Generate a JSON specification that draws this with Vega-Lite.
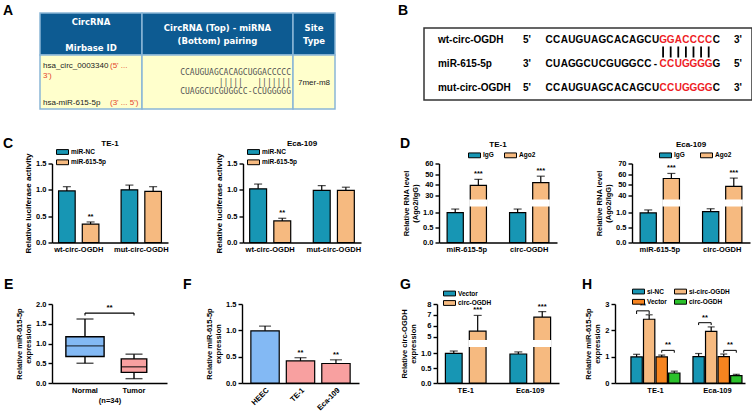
{
  "$schema": "https://vega.github.io/schema/vega-lite/v6.json",
  "background": "white",
  "padding": {"left": 3, "top": 3, "right": 0, "bottom": 0},
  "resolve": {"scale": {"color": "independent", "fill": "independent", "xOffset": "independent", "x": "independent", "y": "independent"}, "legend": {"color": "independent", "fill": "independent"}},
  "config": {
    "font": "Liberation Sans",
    "view": {"stroke": null},
    "axis": {"domainColor": "black", "domainWidth": 1.4, "tickColor": "black", "tickWidth": 1.4, "tickSize": 4, "labelColor": "black", "labelFontWeight": "bold", "labelFontSize": 7.5, "titleColor": "black", "titleFontWeight": "bold", "titleFontSize": 7.5, "grid": false, "labelPadding": 2, "titlePadding": 3},
    "axisY": {"tickCount": 20},
    "axisX": {"ticks": false, "labelAngle": 0, "labelPadding": 3},
    "legend": {"labelFontWeight": "bold", "labelFontSize": 6.5, "labelColor": "black", "symbolType": "M-1.5,-0.6H1.5V0.6H-1.5Z", "symbolSize": 64, "symbolStrokeColor": "black", "symbolStrokeWidth": 1, "rowPadding": 1.3, "labelOffset": 4, "padding": 0},
    "title": {"color": "black", "fontWeight": "bold", "font": "Liberation Sans"}
  },
  "datasets": {
    "tcells": [
      {"c0": 0, "c1": 1, "r0": 0, "r1": 1, "part": "header"},
      {"c0": 1, "c1": 2, "r0": 0, "r1": 1, "part": "header"},
      {"c0": 2, "c1": 3, "r0": 0, "r1": 1, "part": "header"},
      {"c0": 0, "c1": 1, "r0": 1, "r1": 2, "part": "body"},
      {"c0": 1, "c1": 2, "r0": 1, "r1": 2, "part": "body"},
      {"c0": 2, "c1": 3, "r0": 1, "r1": 2, "part": "body"}
    ],
    "ttext": [
      {"col": 0, "ln": 1, "t": "CircRNA", "r": "h"},
      {"col": 0, "ln": 4, "t": "Mirbase ID", "r": "h"},
      {"col": 1, "ln": 2, "t": "CircRNA (Top) - miRNA", "r": "h"},
      {"col": 1, "ln": 3, "t": "(Bottom) pairing", "r": "h"},
      {"col": 2, "ln": 2, "t": "Site", "r": "h"},
      {"col": 2, "ln": 3, "t": "Type", "r": "h"},
      {"col": 0, "ln": 5, "t": "hsa_circ_0003340", "r": "id"},
      {"col": 0, "ln": 5, "t": "(5' ...", "r": "note"},
      {"col": 0, "ln": 7, "t": "3')", "r": "red"},
      {"col": 0, "ln": 10, "t": "hsa-miR-615-5p", "r": "id"},
      {"col": 0, "ln": 10, "t": "(3' ... 5')", "r": "note"},
      {"col": 1, "ln": 6, "t": "CCAUGUAGCACAGCUGGACCCCC", "r": "seq"},
      {"col": 1, "ln": 8, "t": "\u00a0\u00a0\u00a0\u00a0\u00a0\u00a0\u00a0|||||\u00a0\u00a0\u00a0|||||||\u00a0", "r": "seq"},
      {"col": 1, "ln": 9, "t": "CUAGGCUCGUGGCC-CCUGGGGG", "r": "seq"},
      {"col": 2, "ln": 8, "t": "7mer-m8", "r": "site"}
    ],
    "seqs": [
      {"line": 1, "seq": "CCAUGUAGCACAGCUGGACCCCC", "mask": "00000000000000011111110"},
      {"line": 2, "seq": "CUAGGCUCGUGGCC-CCUGGGGG", "mask": "00000000000000011111110"},
      {"line": 3, "seq": "CCAUGUAGCACAGCUCCUGGGGC", "mask": "00000000000000011111110"}
    ],
    "seqlab": [
      {"line": 1, "label": "wt-circ-OGDH", "p5": "5'", "p3": "3'"},
      {"line": 2, "label": "miR-615-5p", "p5": "3'", "p3": "5'"},
      {"line": 3, "label": "mut-circ-OGDH", "p5": "5'", "p3": "3'"}
    ],
    "luc": [
      {"cell": "TE-1", "construct": "wt-circ-OGDH", "group": "miR-NC", "value": 0.98, "upper": 1.06, "sig": ""},
      {"cell": "TE-1", "construct": "wt-circ-OGDH", "group": "miR-615-5p", "value": 0.35, "upper": 0.39, "sig": "**"},
      {"cell": "TE-1", "construct": "mut-circ-OGDH", "group": "miR-NC", "value": 1.0, "upper": 1.09, "sig": ""},
      {"cell": "TE-1", "construct": "mut-circ-OGDH", "group": "miR-615-5p", "value": 0.97, "upper": 1.06, "sig": ""},
      {"cell": "Eca-109", "construct": "wt-circ-OGDH", "group": "miR-NC", "value": 1.02, "upper": 1.11, "sig": ""},
      {"cell": "Eca-109", "construct": "wt-circ-OGDH", "group": "miR-615-5p", "value": 0.41, "upper": 0.46, "sig": "**"},
      {"cell": "Eca-109", "construct": "mut-circ-OGDH", "group": "miR-NC", "value": 0.99, "upper": 1.08, "sig": ""},
      {"cell": "Eca-109", "construct": "mut-circ-OGDH", "group": "miR-615-5p", "value": 0.99, "upper": 1.05, "sig": ""}
    ],
    "rip": [
      {"cell": "TE-1", "target": "miR-615-5p", "group": "IgG", "value": 1.01, "upper": 1.13, "sig": ""},
      {"cell": "TE-1", "target": "miR-615-5p", "group": "Ago2", "value": 39.4, "upper": 45, "sig": "***"},
      {"cell": "TE-1", "target": "circ-OGDH", "group": "IgG", "value": 1.01, "upper": 1.13, "sig": ""},
      {"cell": "TE-1", "target": "circ-OGDH", "group": "Ago2", "value": 42, "upper": 48, "sig": "***"},
      {"cell": "Eca-109", "target": "miR-615-5p", "group": "IgG", "value": 1.0, "upper": 1.1, "sig": ""},
      {"cell": "Eca-109", "target": "miR-615-5p", "group": "Ago2", "value": 55.8, "upper": 60.6, "sig": "***"},
      {"cell": "Eca-109", "target": "circ-OGDH", "group": "IgG", "value": 1.04, "upper": 1.14, "sig": ""},
      {"cell": "Eca-109", "target": "circ-OGDH", "group": "Ago2", "value": 48.4, "upper": 56.2, "sig": "***"}
    ],
    "box": [
      {"group": "Normal", "min": 0.5, "q1": 0.67, "median": 0.94, "q3": 1.17, "max": 1.62},
      {"group": "Tumor", "min": 0.11, "q1": 0.27, "median": 0.41, "q3": 0.61, "max": 0.73}
    ],
    "ebr": [
      {"a": "Normal", "b": "Tumor", "y": 1.77, "y0": 1.71, "sig": "**"}
    ],
    "lev": [
      {"cell": "HEEC", "value": 0.99, "upper": 1.08, "sig": ""},
      {"cell": "TE-1", "value": 0.42, "upper": 0.48, "sig": "**"},
      {"cell": "Eca-109", "value": 0.37, "upper": 0.44, "sig": "**"}
    ],
    "ov": [
      {"cell": "TE-1", "group": "Vector", "value": 1.0, "upper": 1.08, "sig": ""},
      {"cell": "TE-1", "group": "circ-OGDH", "value": 5.5, "upper": 6.95, "sig": "***"},
      {"cell": "Eca-109", "group": "Vector", "value": 0.98, "upper": 1.05, "sig": ""},
      {"cell": "Eca-109", "group": "circ-OGDH", "value": 6.8, "upper": 7.3, "sig": "***"}
    ],
    "res": [
      {"cell": "TE-1", "group": "si-NC", "value": 0.99, "upper": 1.09},
      {"cell": "TE-1", "group": "si-circ-OGDH", "value": 2.42, "upper": 2.59},
      {"cell": "TE-1", "group": "Vector", "value": 0.99, "upper": 1.06},
      {"cell": "TE-1", "group": "circ-OGDH", "value": 0.38, "upper": 0.45},
      {"cell": "Eca-109", "group": "si-NC", "value": 1.0, "upper": 1.12},
      {"cell": "Eca-109", "group": "si-circ-OGDH", "value": 1.96, "upper": 2.13},
      {"cell": "Eca-109", "group": "Vector", "value": 1.0, "upper": 1.1},
      {"cell": "Eca-109", "group": "circ-OGDH", "value": 0.28, "upper": 0.33}
    ],
    "hbr": [
      {"id": 1, "cell": "TE-1", "group": "si-NC", "y": 2.62, "o": 1},
      {"id": 1, "cell": "TE-1", "group": "si-NC", "y": 2.74, "o": 2},
      {"id": 1, "cell": "TE-1", "group": "si-circ-OGDH", "y": 2.74, "o": 3},
      {"id": 1, "cell": "TE-1", "group": "si-circ-OGDH", "y": 2.62, "o": 4},
      {"id": 2, "cell": "TE-1", "group": "Vector", "y": 1.15, "o": 1},
      {"id": 2, "cell": "TE-1", "group": "Vector", "y": 1.24, "o": 2},
      {"id": 2, "cell": "TE-1", "group": "circ-OGDH", "y": 1.24, "o": 3},
      {"id": 2, "cell": "TE-1", "group": "circ-OGDH", "y": 1.15, "o": 4},
      {"id": 3, "cell": "Eca-109", "group": "si-NC", "y": 2.2, "o": 1},
      {"id": 3, "cell": "Eca-109", "group": "si-NC", "y": 2.29, "o": 2},
      {"id": 3, "cell": "Eca-109", "group": "si-circ-OGDH", "y": 2.29, "o": 3},
      {"id": 3, "cell": "Eca-109", "group": "si-circ-OGDH", "y": 2.2, "o": 4},
      {"id": 4, "cell": "Eca-109", "group": "Vector", "y": 1.15, "o": 1},
      {"id": 4, "cell": "Eca-109", "group": "Vector", "y": 1.24, "o": 2},
      {"id": 4, "cell": "Eca-109", "group": "circ-OGDH", "y": 1.24, "o": 3},
      {"id": 4, "cell": "Eca-109", "group": "circ-OGDH", "y": 1.15, "o": 4}
    ],
    "hsig": [
      {"cell": "TE-1", "group": "si-NC", "y": 2.74},
      {"cell": "TE-1", "group": "Vector", "y": 1.24},
      {"cell": "Eca-109", "group": "si-NC", "y": 2.29},
      {"cell": "Eca-109", "group": "Vector", "y": 1.24}
    ]
  },
  "vconcat": [
    {
      "resolve": {"scale": {"color": "independent", "fill": "independent", "xOffset": "independent", "x": "independent", "y": "independent"}, "legend": {"color": "independent", "fill": "independent"}},
      "hconcat": [
        {
          "width": 283, "height": 81,
          "title": {"text": "A", "anchor": "start", "frame": "group", "fontSize": 14, "baseline": "alphabetic", "offset": 0, "dx": -49, "dy": 17},
          "resolve": {"scale": {"y": "independent"}},
          "layer": [
            {"data": {"name": "tcells"}, "mark": {"type": "rect", "stroke": "#8ab6d6", "strokeWidth": 1.5},
             "encoding": {
               "x": {"field": "c0", "type": "quantitative", "scale": {"domain": [0, 1, 2, 3], "range": [-12, 90, 241, 283], "nice": false, "zero": false}, "axis": null},
               "x2": {"field": "c1"},
               "y": {"field": "r0", "type": "quantitative", "scale": {"domain": [0, 1, 2], "range": [-15, 27, 81], "nice": false, "zero": false}, "axis": null},
               "y2": {"field": "r1"},
               "fill": {"field": "part", "type": "nominal", "scale": {"domain": ["header", "body"], "range": ["#0d5b92", "#ffffcc"]}, "legend": null}}},
            {"data": {"name": "ttext"}, "transform": [{"filter": "datum.r === 'h'"}, {"calculate": "datum.col + 0.5", "as": "cx"}],
             "mark": {"type": "text", "font": "DejaVu Sans", "fontWeight": "bold", "fontSize": 8.5, "color": "white", "align": "center", "baseline": "middle"},
             "encoding": {
               "x": {"field": "cx", "type": "quantitative"},
               "y": {"field": "ln", "type": "quantitative", "scale": {"domain": [0, 1, 2, 3, 4, 5, 6, 7, 8, 9, 10, 11], "range": [-15, -6.3, -0.3, 13, 19.7, 38, 44.7, 48, 54.7, 63.7, 74.7, 81], "nice": false, "zero": false}, "axis": null},
               "text": {"field": "t"}}},
            {"data": {"name": "ttext"}, "transform": [{"filter": "datum.r === 'id' || datum.r === 'red'"}],
             "mark": {"type": "text", "fontSize": 8, "align": "left", "baseline": "middle", "dx": 3},
             "encoding": {
               "x": {"field": "col", "type": "quantitative"},
               "y": {"field": "ln", "type": "quantitative", "scale": {"domain": [0, 1, 2, 3, 4, 5, 6, 7, 8, 9, 10, 11], "range": [-15, -6.3, -0.3, 13, 19.7, 38, 44.7, 48, 54.7, 63.7, 74.7, 81], "nice": false, "zero": false}, "axis": null},
               "text": {"field": "t"},
               "color": {"condition": {"test": "datum.r === 'red'", "value": "#e4442b"}, "value": "#222222"}}},
            {"data": {"name": "ttext"}, "transform": [{"filter": "datum.r === 'note'"}],
             "mark": {"type": "text", "fontSize": 8, "align": "left", "baseline": "middle", "dx": 70, "color": "#e4442b"},
             "encoding": {
               "x": {"field": "col", "type": "quantitative"},
               "y": {"field": "ln", "type": "quantitative", "scale": {"domain": [0, 1, 2, 3, 4, 5, 6, 7, 8, 9, 10, 11], "range": [-15, -6.3, -0.3, 13, 19.7, 38, 44.7, 48, 54.7, 63.7, 74.7, 81], "nice": false, "zero": false}, "axis": null},
               "text": {"field": "t"}}},
            {"data": {"name": "ttext"}, "transform": [{"filter": "datum.r === 'seq'"}, {"calculate": "datum.col + 1", "as": "rx"}],
             "mark": {"type": "text", "font": "DejaVu Sans Mono", "fontSize": 8, "align": "right", "baseline": "middle", "dx": -2, "color": "#555555"},
             "encoding": {
               "x": {"field": "rx", "type": "quantitative"},
               "y": {"field": "ln", "type": "quantitative", "scale": {"domain": [0, 1, 2, 3, 4, 5, 6, 7, 8, 9, 10, 11], "range": [-15, -6.3, -0.3, 13, 19.7, 38, 44.7, 48, 54.7, 63.7, 74.7, 81], "nice": false, "zero": false}, "axis": null},
               "text": {"field": "t"}}},
            {"data": {"name": "ttext"}, "transform": [{"filter": "datum.r === 'site'"}, {"calculate": "datum.col + 0.5", "as": "cx"}],
             "mark": {"type": "text", "fontSize": 8, "align": "center", "baseline": "middle", "color": "#222222"},
             "encoding": {
               "x": {"field": "cx", "type": "quantitative"},
               "y": {"field": "ln", "type": "quantitative", "scale": {"domain": [0, 1, 2, 3, 4, 5, 6, 7, 8, 9, 10, 11], "range": [-15, -6.3, -0.3, 13, 19.7, 38, 44.7, 48, 54.7, 63.7, 74.7, 81], "nice": false, "zero": false}, "axis": null},
               "text": {"field": "t"}}}
          ]
        },
        {
          "width": 328, "height": 72,
          "view": {"stroke": "#333333", "strokeWidth": 1.5},
          "title": {"text": "B", "anchor": "start", "frame": "group", "fontSize": 14, "baseline": "alphabetic", "offset": 0, "dx": -26, "dy": 1},
          "layer": [
            {"data": {"name": "seqs"},
             "transform": [{"calculate": "split(datum.seq, '')", "as": "ch"}, {"calculate": "split(datum.mask, '')", "as": "mk"}, {"flatten": ["ch", "mk"]}, {"window": [{"op": "row_number", "as": "i"}], "groupby": ["line"]}],
             "mark": {"type": "text", "fontSize": 10, "fontWeight": "bold", "align": "center", "baseline": "middle"},
             "encoding": {
               "x": {"field": "i", "type": "quantitative", "scale": {"domain": [-15.46, 27.7], "nice": false, "zero": false}, "axis": null},
               "y": {"field": "line", "type": "quantitative", "scale": {"domain": [0.5, 3.5], "reverse": true, "nice": false, "zero": false}, "axis": null},
               "text": {"field": "ch"},
               "color": {"condition": {"test": "datum.mk === '1'", "value": "#ee1c25"}, "value": "black"}}},
            {"data": {"name": "seqs"},
             "transform": [{"calculate": "split(datum.seq, '')", "as": "ch"}, {"calculate": "split(datum.mask, '')", "as": "mk"}, {"flatten": ["ch", "mk"]}, {"window": [{"op": "row_number", "as": "i"}], "groupby": ["line"]}, {"filter": "datum.line === 1 && datum.mk === '1'"}],
             "mark": {"type": "rule", "color": "black", "strokeWidth": 1.8},
             "encoding": {"x": {"field": "i", "type": "quantitative"}, "y": {"datum": 1.27}, "y2": {"datum": 1.73}}},
            {"data": {"name": "seqlab"}, "mark": {"type": "text", "fontSize": 10, "fontWeight": "bold", "align": "left", "baseline": "middle"},
             "encoding": {"x": {"datum": -13.62}, "y": {"field": "line", "type": "quantitative"}, "text": {"field": "label"}}},
            {"data": {"name": "seqlab"}, "mark": {"type": "text", "fontSize": 10, "fontWeight": "bold", "align": "center", "baseline": "middle"},
             "encoding": {"x": {"datum": -1.91}, "y": {"field": "line", "type": "quantitative"}, "text": {"field": "p5"}}},
            {"data": {"name": "seqlab"}, "mark": {"type": "text", "fontSize": 10, "fontWeight": "bold", "align": "center", "baseline": "middle"},
             "encoding": {"x": {"datum": 25.86}, "y": {"field": "line", "type": "quantitative"}, "text": {"field": "p3"}}}
          ]
        }
      ],
      "spacing": 61
    },
    {
      "resolve": {"scale": {"color": "independent", "fill": "independent", "xOffset": "independent", "x": "independent", "y": "independent"}, "legend": {"color": "independent", "fill": "independent"}},
      "vconcat": [
        {
          "resolve": {"scale": {"color": "independent", "fill": "independent", "xOffset": "independent", "x": "independent", "y": "independent"}, "legend": {"color": "independent", "fill": "independent"}},
          "hconcat": [
            {
              "resolve": {"scale": {"color": "independent", "fill": "independent", "xOffset": "independent", "x": "independent", "y": "independent"}, "legend": {"color": "independent", "fill": "independent"}},
              "title": {"text": "C", "anchor": "start", "frame": "group", "fontSize": 14, "baseline": "alphabetic", "offset": 0, "dx": -49, "dy": 22.5},
              "hconcat": [
                {
                  "width": 116, "height": 79,
                  "data": {"name": "luc"},
                  "transform": [{"filter": "datum.cell === 'TE-1'"}],
                  "title": {"text": "TE-1", "frame": "group", "fontSize": 8, "baseline": "alphabetic", "offset": 0, "dy": 6.3},
                  "encoding": {
                    "x": {"field": "construct", "type": "nominal", "sort": ["wt-circ-OGDH", "mut-circ-OGDH"], "scale": {"paddingInner": 0.355, "paddingOuter": 0.105}, "axis": {"title": null}},
                    "xOffset": {"field": "group", "type": "nominal", "sort": ["miR-NC", "miR-615-5p"], "scale": {"paddingInner": 0.3, "paddingOuter": 0}}
                  },
                  "layer": [
                    {"mark": {"type": "bar", "stroke": "black", "strokeWidth": 1.2},
                     "encoding": {
                       "y": {"field": "value", "type": "quantitative", "scale": {"domain": [0, 1.5], "nice": false}, "axis": {"values": [0, 0.5, 1, 1.5], "format": ".1f", "title": "Relative luciferase activity", "titleFontSize": 8}},
                       "color": {"field": "group", "type": "nominal", "sort": ["miR-NC", "miR-615-5p"], "scale": {"domain": ["miR-NC", "miR-615-5p"], "range": ["#1796b4", "#f6ba80"]}, "legend": {"orient": "none", "legendX": 6, "legendY": -16, "direction": "vertical", "title": null}}}},
                    {"mark": {"type": "rule", "color": "black", "strokeWidth": 1.2}, "encoding": {"y": {"field": "value", "type": "quantitative"}, "y2": {"field": "upper"}}},
                    {"mark": {"type": "tick", "color": "black", "thickness": 1.2, "size": 8}, "encoding": {"y": {"field": "upper", "type": "quantitative"}}},
                    {"mark": {"type": "text", "baseline": "bottom", "dy": -1, "fontSize": 7.5, "fontWeight": "bold"}, "encoding": {"y": {"field": "upper", "type": "quantitative"}, "text": {"field": "sig"}}}
                  ]
                },
                {
                  "width": 118, "height": 79,
                  "data": {"name": "luc"},
                  "transform": [{"filter": "datum.cell === 'Eca-109'"}],
                  "title": {"text": "Eca-109", "frame": "group", "fontSize": 8, "baseline": "alphabetic", "offset": 0, "dy": 6.3},
                  "encoding": {
                    "x": {"field": "construct", "type": "nominal", "sort": ["wt-circ-OGDH", "mut-circ-OGDH"], "scale": {"paddingInner": 0.355, "paddingOuter": 0.105}, "axis": {"title": null}},
                    "xOffset": {"field": "group", "type": "nominal", "sort": ["miR-NC", "miR-615-5p"], "scale": {"paddingInner": 0.3, "paddingOuter": 0}}
                  },
                  "layer": [
                    {"mark": {"type": "bar", "stroke": "black", "strokeWidth": 1.2},
                     "encoding": {
                       "y": {"field": "value", "type": "quantitative", "scale": {"domain": [0, 1.5], "nice": false}, "axis": {"values": [0, 0.5, 1, 1.5], "format": ".1f", "title": "Relative luciferase activity", "titleFontSize": 8}},
                       "color": {"field": "group", "type": "nominal", "sort": ["miR-NC", "miR-615-5p"], "scale": {"domain": ["miR-NC", "miR-615-5p"], "range": ["#1796b4", "#f6ba80"]}, "legend": {"orient": "none", "legendX": 6, "legendY": -16, "direction": "vertical", "title": null}}}},
                    {"mark": {"type": "rule", "color": "black", "strokeWidth": 1.2}, "encoding": {"y": {"field": "value", "type": "quantitative"}, "y2": {"field": "upper"}}},
                    {"mark": {"type": "tick", "color": "black", "thickness": 1.2, "size": 8}, "encoding": {"y": {"field": "upper", "type": "quantitative"}}},
                    {"mark": {"type": "text", "baseline": "bottom", "dy": -1, "fontSize": 7.5, "fontWeight": "bold"}, "encoding": {"y": {"field": "upper", "type": "quantitative"}, "text": {"field": "sig"}}}
                  ]
                }
              ],
              "spacing": 46
            },
            {
              "resolve": {"scale": {"color": "independent", "fill": "independent", "xOffset": "independent", "x": "independent", "y": "independent"}, "legend": {"color": "independent", "fill": "independent"}},
              "title": {"text": "D", "anchor": "start", "frame": "group", "fontSize": 14, "baseline": "alphabetic", "offset": 0, "dx": -39, "dy": 21.8},
              "hconcat": [
                {
                  "width": 118, "height": 79,
                  "data": {"name": "rip"},
                  "transform": [{"filter": "datum.cell === 'TE-1'"}],
                  "title": {"text": "TE-1", "frame": "group", "fontSize": 8, "baseline": "alphabetic", "offset": 0, "dy": 3.7},
                  "encoding": {
                    "x": {"field": "target", "type": "nominal", "sort": ["miR-615-5p", "circ-OGDH"], "scale": {"paddingInner": 0.37, "paddingOuter": 0.13}, "axis": {"title": null}},
                    "xOffset": {"field": "group", "type": "nominal", "sort": ["IgG", "Ago2"], "scale": {"paddingInner": 0.3, "paddingOuter": 0}}
                  },
                  "layer": [
                    {"mark": {"type": "bar", "stroke": "black", "strokeWidth": 1.2},
                     "encoding": {
                       "y": {"field": "value", "type": "quantitative", "scale": {"domain": [0, 1.25, 25, 60], "range": [79, 42, 37, 0], "nice": false, "zero": false}, "axis": {"values": [0, 0.5, 1, 30, 40, 50, 60], "tickCount": 20, "labelExpr": "datum.value < 2 ? format(datum.value, '.1f') : format(datum.value, 'd')", "title": ["Relative RNA level", "(Ago2/IgG)"]}},
                       "color": {"field": "group", "type": "nominal", "sort": ["IgG", "Ago2"], "scale": {"domain": ["IgG", "Ago2"], "range": ["#1796b4", "#f6ba80"]}, "legend": {"orient": "none", "legendX": 31, "legendY": -12.7, "direction": "horizontal", "title": null, "columnPadding": 8}}}},
                    {"mark": {"type": "rect", "fill": "white", "stroke": "white", "strokeWidth": 2}, "encoding": {"y": {"datum": 1.25}, "y2": {"datum": 25}}},
                    {"mark": {"type": "rule", "color": "black", "strokeWidth": 1.2}, "encoding": {"y": {"field": "value", "type": "quantitative"}, "y2": {"field": "upper"}}},
                    {"mark": {"type": "tick", "color": "black", "thickness": 1.2, "size": 8}, "encoding": {"y": {"field": "upper", "type": "quantitative"}}},
                    {"mark": {"type": "text", "baseline": "bottom", "dy": -1, "fontSize": 7.5, "fontWeight": "bold"}, "encoding": {"y": {"field": "upper", "type": "quantitative"}, "text": {"field": "sig"}}}
                  ]
                },
                {
                  "width": 118, "height": 79,
                  "data": {"name": "rip"},
                  "transform": [{"filter": "datum.cell === 'Eca-109'"}],
                  "title": {"text": "Eca-109", "frame": "group", "fontSize": 8, "baseline": "alphabetic", "offset": 0, "dy": 3.7},
                  "encoding": {
                    "x": {"field": "target", "type": "nominal", "sort": ["miR-615-5p", "circ-OGDH"], "scale": {"paddingInner": 0.37, "paddingOuter": 0.13}, "axis": {"title": null}},
                    "xOffset": {"field": "group", "type": "nominal", "sort": ["IgG", "Ago2"], "scale": {"paddingInner": 0.3, "paddingOuter": 0}}
                  },
                  "layer": [
                    {"mark": {"type": "bar", "stroke": "black", "strokeWidth": 1.2},
                     "encoding": {
                       "y": {"field": "value", "type": "quantitative", "scale": {"domain": [0, 1.25, 35, 70], "range": [79, 42, 37, 0], "nice": false, "zero": false}, "axis": {"values": [0, 0.5, 1, 40, 50, 60, 70], "tickCount": 20, "labelExpr": "datum.value < 2 ? format(datum.value, '.1f') : format(datum.value, 'd')", "title": ["Relative RNA level", "(Ago2/IgG)"]}},
                       "color": {"field": "group", "type": "nominal", "sort": ["IgG", "Ago2"], "scale": {"domain": ["IgG", "Ago2"], "range": ["#1796b4", "#f6ba80"]}, "legend": {"orient": "none", "legendX": 29, "legendY": -12.7, "direction": "horizontal", "title": null, "columnPadding": 13}}}},
                    {"mark": {"type": "rect", "fill": "white", "stroke": "white", "strokeWidth": 2}, "encoding": {"y": {"datum": 1.25}, "y2": {"datum": 35}}},
                    {"mark": {"type": "rule", "color": "black", "strokeWidth": 1.2}, "encoding": {"y": {"field": "value", "type": "quantitative"}, "y2": {"field": "upper"}}},
                    {"mark": {"type": "tick", "color": "black", "thickness": 1.2, "size": 8}, "encoding": {"y": {"field": "upper", "type": "quantitative"}}},
                    {"mark": {"type": "text", "baseline": "bottom", "dy": -1, "fontSize": 7.5, "fontWeight": "bold"}, "encoding": {"y": {"field": "upper", "type": "quantitative"}, "text": {"field": "sig"}}}
                  ]
                }
              ],
              "spacing": 38
            }
          ],
          "spacing": 39
        },
        {
          "resolve": {"scale": {"color": "independent", "fill": "independent", "xOffset": "independent", "x": "independent", "y": "independent"}, "legend": {"color": "independent", "fill": "independent"}},
          "hconcat": [
            {
              "width": 115, "height": 79,
              "data": {"name": "box"},
              "title": {"text": "E", "anchor": "start", "frame": "group", "fontSize": 14, "baseline": "alphabetic", "offset": 0, "dx": -48, "dy": 3},
              "encoding": {"x": {"field": "group", "type": "nominal", "sort": ["Normal", "Tumor"], "scale": {"paddingInner": 0, "paddingOuter": 0.173}, "axis": {"title": "(n=34)", "titlePadding": 3, "titleFontSize": 7.5}}},
              "layer": [
                {"mark": {"type": "rule", "color": "black", "strokeWidth": 1.4},
                 "encoding": {"y": {"field": "min", "type": "quantitative", "scale": {"domain": [0, 2], "nice": false}, "axis": {"values": [0, 0.5, 1, 1.5, 2], "tickCount": 20, "format": ".1f", "title": ["Relative miR-615-5p", "expression"]}}, "y2": {"field": "max"}}},
                {"mark": {"type": "tick", "color": "black", "thickness": 1.4, "size": 17}, "encoding": {"y": {"field": "min", "type": "quantitative"}}},
                {"mark": {"type": "tick", "color": "black", "thickness": 1.4, "size": 17}, "encoding": {"y": {"field": "max", "type": "quantitative"}}},
                {"transform": [{"filter": "datum.group === 'Normal'"}], "mark": {"type": "bar", "width": {"band": 0.78}, "fill": "#83b9f4", "stroke": "black", "strokeWidth": 1.4}, "encoding": {"y": {"field": "q1", "type": "quantitative"}, "y2": {"field": "q3"}}},
                {"transform": [{"filter": "datum.group === 'Tumor'"}], "mark": {"type": "bar", "width": {"band": 0.52}, "fill": "#f8a0a0", "stroke": "black", "strokeWidth": 1.4}, "encoding": {"y": {"field": "q1", "type": "quantitative"}, "y2": {"field": "q3"}}},
                {"transform": [{"filter": "datum.group === 'Normal'"}], "mark": {"type": "tick", "color": "black", "thickness": 1.4, "size": 38}, "encoding": {"y": {"field": "median", "type": "quantitative"}}},
                {"transform": [{"filter": "datum.group === 'Tumor'"}], "mark": {"type": "tick", "color": "black", "thickness": 1.4, "size": 25}, "encoding": {"y": {"field": "median", "type": "quantitative"}}},
                {"data": {"name": "ebr"}, "mark": {"type": "rule", "color": "black", "strokeWidth": 1.1}, "encoding": {"x": {"field": "a", "type": "nominal"}, "x2": {"field": "b"}, "y": {"field": "y", "type": "quantitative"}}},
                {"data": {"name": "ebr"}, "mark": {"type": "rule", "color": "black", "strokeWidth": 1.1}, "encoding": {"x": {"field": "a", "type": "nominal"}, "y": {"field": "y", "type": "quantitative"}, "y2": {"field": "y0"}}},
                {"data": {"name": "ebr"}, "mark": {"type": "rule", "color": "black", "strokeWidth": 1.1}, "encoding": {"x": {"field": "b", "type": "nominal"}, "y": {"field": "y", "type": "quantitative"}, "y2": {"field": "y0"}}},
                {"data": {"name": "ebr"}, "mark": {"type": "text", "dx": 24.5, "dy": -1, "baseline": "bottom", "fontSize": 8, "fontWeight": "bold"}, "encoding": {"x": {"field": "a", "type": "nominal"}, "y": {"field": "y", "type": "quantitative"}, "text": {"field": "sig"}}}
              ]
            },
            {
              "resolve": {"scale": {"color": "independent", "fill": "independent", "xOffset": "independent", "x": "independent", "y": "independent"}, "legend": {"color": "independent", "fill": "independent"}},
              "hconcat": [
                {
                  "width": 117, "height": 79,
                  "data": {"name": "lev"},
                  "title": {"text": "F", "anchor": "start", "frame": "group", "fontSize": 14, "baseline": "alphabetic", "offset": 0, "dx": -59, "dy": 3},
                  "encoding": {"x": {"field": "cell", "type": "nominal", "sort": ["HEEC", "TE-1", "Eca-109"], "scale": {"paddingInner": 0.2, "paddingOuter": 0.25}, "axis": {"title": null, "labelAngle": -45, "labelAlign": "right", "labelBaseline": "top"}}},
                  "layer": [
                    {"mark": {"type": "bar", "stroke": "black", "strokeWidth": 1.2},
                     "encoding": {
                       "y": {"field": "value", "type": "quantitative", "scale": {"domain": [0, 1.5], "nice": false}, "axis": {"values": [0, 0.5, 1, 1.5], "tickCount": 20, "format": ".1f", "title": ["Relative miR-615-5p", "expression"]}},
                       "color": {"field": "cell", "type": "nominal", "scale": {"domain": ["HEEC", "TE-1", "Eca-109"], "range": ["#83b9f4", "#f8a0a0", "#f8a0a0"]}, "legend": null}}},
                    {"mark": {"type": "rule", "color": "black", "strokeWidth": 1.2}, "encoding": {"y": {"field": "value", "type": "quantitative"}, "y2": {"field": "upper"}}},
                    {"mark": {"type": "tick", "color": "black", "thickness": 1.2, "size": 12}, "encoding": {"y": {"field": "upper", "type": "quantitative"}}},
                    {"mark": {"type": "text", "baseline": "bottom", "dy": -1, "fontSize": 7.5, "fontWeight": "bold"}, "encoding": {"y": {"field": "upper", "type": "quantitative"}, "text": {"field": "sig"}}}
                  ]
                },
                {
                  "resolve": {"scale": {"color": "independent", "fill": "independent", "xOffset": "independent", "x": "independent", "y": "independent"}, "legend": {"color": "independent", "fill": "independent"}},
                  "hconcat": [
                    {
                      "width": 122, "height": 79,
                      "data": {"name": "ov"},
                      "title": {"text": "G", "anchor": "start", "frame": "group", "fontSize": 14, "baseline": "alphabetic", "offset": 0, "dx": -37, "dy": 14},
                      "encoding": {
                        "x": {"field": "cell", "type": "nominal", "sort": ["TE-1", "Eca-109"], "scale": {"paddingInner": 0.37, "paddingOuter": 0.13}, "axis": {"title": null}},
                        "xOffset": {"field": "group", "type": "nominal", "sort": ["Vector", "circ-OGDH"], "scale": {"paddingInner": 0.3, "paddingOuter": 0}}
                      },
                      "layer": [
                        {"mark": {"type": "bar", "stroke": "black", "strokeWidth": 1.2},
                         "encoding": {
                           "y": {"field": "value", "type": "quantitative", "scale": {"domain": [0, 1.25, 4.6, 8], "range": [79, 42, 37, 0], "nice": false, "zero": false}, "axis": {"values": [0, 0.5, 1, 5, 6, 7, 8], "tickCount": 20, "labelExpr": "datum.value < 2 ? format(datum.value, '.1f') : format(datum.value, 'd')", "title": ["Relative circ-OGDH", "expression"]}},
                           "color": {"field": "group", "type": "nominal", "sort": ["Vector", "circ-OGDH"], "scale": {"domain": ["Vector", "circ-OGDH"], "range": ["#1796b4", "#f6ba80"]}, "legend": {"orient": "none", "legendX": 8, "legendY": -15, "direction": "vertical", "title": null, "rowPadding": 0.5}}}},
                        {"mark": {"type": "rect", "fill": "white", "stroke": "white", "strokeWidth": 2}, "encoding": {"y": {"datum": 1.25}, "y2": {"datum": 4.6}}},
                        {"mark": {"type": "rule", "color": "black", "strokeWidth": 1.2}, "encoding": {"y": {"field": "value", "type": "quantitative"}, "y2": {"field": "upper"}}},
                        {"mark": {"type": "tick", "color": "black", "thickness": 1.2, "size": 8}, "encoding": {"y": {"field": "upper", "type": "quantitative"}}},
                        {"mark": {"type": "text", "baseline": "bottom", "dy": -1, "fontSize": 7.5, "fontWeight": "bold"}, "encoding": {"y": {"field": "upper", "type": "quantitative"}, "text": {"field": "sig"}}}
                      ]
                    },
                    {
                      "width": 130, "height": 79,
                      "data": {"name": "res"},
                      "title": {"text": "H", "anchor": "start", "frame": "group", "fontSize": 14, "baseline": "alphabetic", "offset": 0, "dx": -33, "dy": 16},
                      "encoding": {
                        "x": {"field": "cell", "type": "nominal", "sort": ["TE-1", "Eca-109"], "scale": {"paddingInner": 0.21, "paddingOuter": 0.153, "align": 0.84}, "axis": {"title": null}},
                        "xOffset": {"field": "group", "type": "nominal", "scale": {"domain": ["si-NC", "si-circ-OGDH", "Vector", "circ-OGDH"], "paddingInner": 0.1, "paddingOuter": 0}}
                      },
                      "layer": [
                        {"mark": {"type": "bar", "stroke": "black", "strokeWidth": 1.2},
                         "encoding": {
                           "y": {"field": "value", "type": "quantitative", "scale": {"domain": [0, 3], "nice": false}, "axis": {"values": [0, 1, 2, 3], "tickCount": 20, "format": "d", "title": ["Relative miR-615-5p", "expression"]}},
                           "color": {"field": "group", "type": "nominal", "scale": {"domain": ["si-NC", "si-circ-OGDH", "Vector", "circ-OGDH"], "range": ["#1796b4", "#f6ba80", "#f7841f", "#2bc12b"]}, "legend": {"orient": "none", "legendX": 19, "legendY": -17, "direction": "horizontal", "columns": 2, "columnPadding": 5, "title": null}}}},
                        {"mark": {"type": "rule", "color": "black", "strokeWidth": 1.2}, "encoding": {"y": {"field": "value", "type": "quantitative"}, "y2": {"field": "upper"}}},
                        {"mark": {"type": "tick", "color": "black", "thickness": 1.2, "size": 7}, "encoding": {"y": {"field": "upper", "type": "quantitative"}}},
                        {"data": {"name": "hbr"}, "mark": {"type": "line", "color": "black", "strokeWidth": 1}, "encoding": {"y": {"field": "y", "type": "quantitative"}, "detail": {"field": "id"}, "order": {"field": "o"}}},
                        {"data": {"name": "hsig"}, "mark": {"type": "text", "dx": 6.3, "dy": -1, "baseline": "bottom", "fontSize": 7.5, "fontWeight": "bold", "text": "**"}, "encoding": {"y": {"field": "y", "type": "quantitative"}}}
                      ]
                    }
                  ],
                  "spacing": 23
                }
              ],
              "spacing": 41
            }
          ],
          "spacing": 16
        }
      ],
      "spacing": 24.5
    }
  ],
  "spacing": 26.5
}
